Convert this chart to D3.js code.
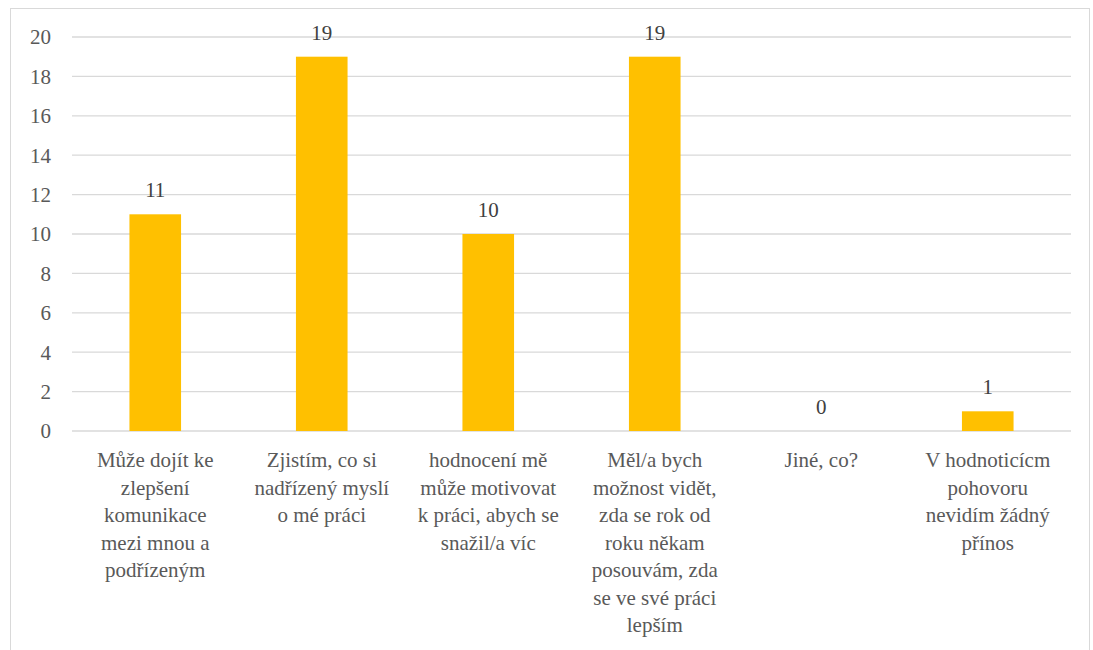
<!DOCTYPE html>
<html><head><meta charset="utf-8">
<script src="https://cdn.jsdelivr.net/npm/d3@7"></script>
</head><body style="margin:0;background:#fff">
<script>
const categories = [
  ["Může dojít ke","zlepšení","komunikace","mezi mnou a","podřízeným"],
  ["Zjistím, co si","nadřízený myslí","o mé práci"],
  ["hodnocení mě","může motivovat","k práci, abych se","snažil/a víc"],
  ["Měl/a bych","možnost vidět,","zda se rok od","roku někam","posouvám, zda","se ve své práci","lepším"],
  ["Jiné, co?"],
  ["V hodnoticícm","pohovoru","nevidím žádný","přínos"]
];
const values = [11, 19, 10, 19, 0, 1];
const yTicks = [0, 2, 4, 6, 8, 10, 12, 14, 16, 18, 20];

const W = 1093, H = 650;
const FF = '"Liberation Serif", "Times New Roman", Tinos, serif';
const FS = "21px";
const svg = d3.select("body").append("svg").attr("width", W).attr("height", H)
  .style("display", "block");
svg.append("rect").attr("x", 10.5).attr("y", 8.5).attr("width", 1079).attr("height", 660)
  .attr("fill", "#fff").attr("stroke", "#d9d9d9").attr("stroke-width", 1);

const x0 = 72, x1 = 1071, yTop = 37, yBot = 431;
const idx = categories.map((d, i) => i);
const x = d3.scaleBand().domain(idx).range([x0, x1]).paddingInner(0.69).paddingOuter(0.345);
const y = d3.scaleLinear().domain([0, 20]).range([yBot, yTop]);

function styleText(sel) {
  return sel.style("font-family", FF, "important").style("font-size", FS, "important");
}

svg.selectAll("line.grid").data(yTicks).join("line")
  .attr("x1", x0).attr("x2", x1)
  .attr("y1", d => y(d)).attr("y2", d => y(d))
  .attr("stroke", "#d9d9d9").attr("stroke-width", 1.3);

const yAxis = d3.axisLeft(y).tickValues(yTicks).tickSize(0).tickPadding(0);
const ya = svg.append("g").attr("transform", `translate(51,0)`).call(yAxis);
ya.attr("font-family", null).attr("font-size", null);
ya.select(".domain").remove();
styleText(ya.selectAll("text")).attr("fill", "#595959")
  .attr("text-anchor", "end").attr("dy", "0.33em");

svg.selectAll("rect.bar").data(values).join("rect")
  .attr("x", (d, i) => x(i)).attr("width", x.bandwidth())
  .attr("y", d => y(d)).attr("height", d => y(0) - y(d))
  .attr("fill", "#FFC000");

styleText(svg.selectAll("text.val").data(values).join("text")
  .attr("x", (d, i) => x(i) + x.bandwidth() / 2)
  .attr("y", d => y(d) - 17)
  .attr("text-anchor", "middle").attr("fill", "#404040")
  .text(d => d));

const xAxis = d3.axisBottom(x).tickSize(0).tickFormat(() => "");
const xa = svg.append("g").attr("transform", `translate(0,${yBot})`).call(xAxis);
xa.attr("font-family", null).attr("font-size", null);
xa.select(".domain").remove();
xa.selectAll(".tick").each(function(i) {
  const t = styleText(d3.select(this).append("text"))
    .attr("fill", "#595959").attr("text-anchor", "middle");
  categories[i].forEach((line, k) => {
    styleText(t.append("tspan")).attr("x", 0).attr("y", 36 + k * 27.5).text(line);
  });
});
</script>
</body></html>
